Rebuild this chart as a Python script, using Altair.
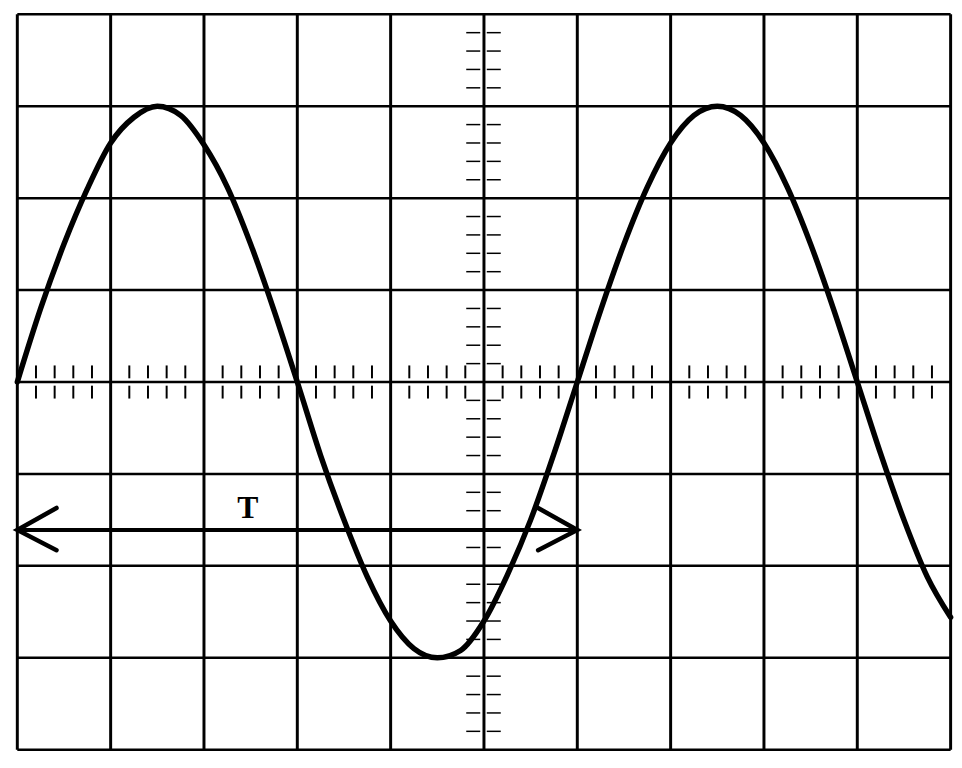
import altair as alt
import pandas as pd

# --- values (in screen divisions) ---
wave_x = [0, 0.25, 0.5, 0.75, 1.0, 1.25, 1.5, 1.75, 2.0, 2.25, 2.5, 2.75,
          3.0, 3.25, 3.5, 3.75, 4.0, 4.25, 4.5, 4.75, 5.0, 5.25, 5.5, 5.75,
          6.0, 6.25, 6.5, 6.75, 7.0, 7.25, 7.5, 7.75, 8.0, 8.25, 8.5, 8.75,
          9.0, 9.25, 9.5, 9.75, 10.0]
wave_y = [0.00, 0.80, 1.50, 2.10, 2.60, 2.88, 3.00, 2.90, 2.58, 2.12, 1.50, 0.78,
          0.00, -0.80, -1.50, -2.12, -2.60, -2.90, -3.00, -2.92, -2.60, -2.10, -1.50, -0.78,
          0.00, 0.78, 1.50, 2.12, 2.60, 2.90, 3.00, 2.90, 2.60, 2.12, 1.50, 0.78,
          0.00, -0.78, -1.50, -2.12, -2.56]

grid_x = [0, 1, 2, 3, 4, 5, 6, 7, 8, 9, 10]
grid_y = [-4, -3, -2, -1, 0, 1, 2, 3, 4]

arrow_start = 0.0
arrow_end = 6.0
arrow_level = -1.61
label_text = "T"
label_x = 2.47
label_y = -1.37

# --- derived tables ---
W, H = 946, 746
xs = alt.Scale(domain=[-0.015, 10.015], nice=False, zero=False)
ys = alt.Scale(domain=[-4.015, 4.015], nice=False, zero=False)

wave = pd.DataFrame({"x": wave_x, "y": wave_y})
vgrid = pd.DataFrame({"x": grid_x, "y": -4, "y2": 4})
hgrid = pd.DataFrame({"y": grid_y, "x": 0, "x2": 10})

minor = [round(i * 0.2, 2) for i in range(1, 50) if i % 5 != 0]
hticks_up = pd.DataFrame({"x": minor, "y": 0.04, "y2": 0.18})
hticks_dn = pd.DataFrame({"x": minor, "y": -0.04, "y2": -0.18})
vminor = [round(-4 + i * 0.2, 2) for i in range(1, 40) if i % 5 != 0]
vticks_l = pd.DataFrame({"y": vminor, "x": 4.81, "x2": 4.96})
vticks_r = pd.DataFrame({"y": vminor, "x": 5.03, "x2": 5.18})

arrow_line = pd.DataFrame({"x": [arrow_start], "x2": [arrow_end], "y": [arrow_level]})
heads = pd.DataFrame({
    "x": [arrow_start + 0.42, arrow_start, arrow_start + 0.42,
          arrow_end - 0.42, arrow_end, arrow_end - 0.42],
    "y": [arrow_level + 0.24, arrow_level, arrow_level - 0.22,
          arrow_level + 0.24, arrow_level, arrow_level - 0.22],
    "o": [0, 1, 2, 0, 1, 2],
    "g": ["l", "l", "l", "r", "r", "r"],
})
label = pd.DataFrame({"x": [label_x], "y": [label_y], "t": [label_text]})

X = lambda f="x": alt.X(f + ":Q", scale=xs, axis=None)
Y = lambda f="y": alt.Y(f + ":Q", scale=ys, axis=None)

l_vgrid = alt.Chart(vgrid).mark_rule(color="black", strokeWidth=3).encode(
    x=X(), y=Y(), y2="y2:Q")
l_hgrid = alt.Chart(hgrid).mark_rule(color="black", strokeWidth=2.5).encode(
    y=Y(), x=X(), x2="x2:Q")
l_ht1 = alt.Chart(hticks_up).mark_rule(color="black", strokeWidth=2).encode(
    x=X(), y=Y(), y2="y2:Q")
l_ht2 = alt.Chart(hticks_dn).mark_rule(color="black", strokeWidth=2).encode(
    x=X(), y=Y(), y2="y2:Q")
l_vt1 = alt.Chart(vticks_l).mark_rule(color="black", strokeWidth=1.5).encode(
    y=Y(), x=X(), x2="x2:Q")
l_vt2 = alt.Chart(vticks_r).mark_rule(color="black", strokeWidth=1.5).encode(
    y=Y(), x=X(), x2="x2:Q")
l_wave = alt.Chart(wave).mark_line(color="black", strokeWidth=5.5, interpolate="monotone",
                                   strokeCap="round", strokeJoin="round").encode(
    x=X(), y=Y())
l_arrow = alt.Chart(arrow_line).mark_rule(color="black", strokeWidth=4).encode(
    x=X(), x2="x2:Q", y=Y())
l_heads = alt.Chart(heads).mark_line(color="black", strokeWidth=4.5, strokeCap="round",
                                     strokeJoin="miter").encode(
    x=X(), y=Y(), order="o:Q", detail="g:N")
l_label = alt.Chart(label).mark_text(font="Liberation Serif", fontWeight="bold", fontSize=32,
                                     color="black").encode(
    x=X(), y=Y(), text="t:N")

chart = alt.layer(l_vgrid, l_hgrid, l_ht1, l_ht2, l_vt1, l_vt2, l_arrow, l_heads, l_wave, l_label).properties(
    width=W, height=H, padding={"left": 0, "top": 0, "right": 0, "bottom": 0}, background="white"
).configure_view(stroke=None)

chart.save("out.html", embed_options={"renderer": "svg", "actions": False})
